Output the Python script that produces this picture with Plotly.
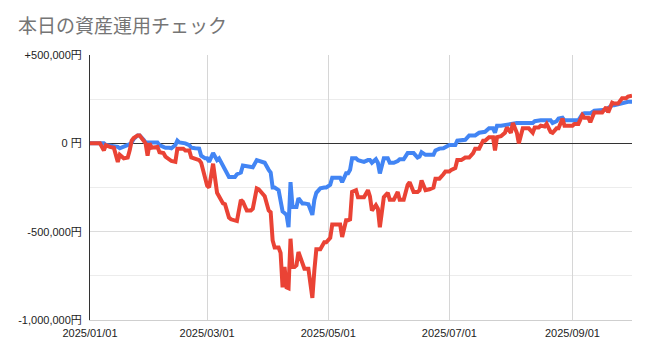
import pandas as pd
import plotly.graph_objects as go

# day offsets from 2025-01-01 (x categories)
day_offsets = [
    0, 3, 5, 7, 8, 10, 12, 14, 15, 17,
    19, 20, 21, 22, 24, 25, 27, 28, 29, 30,
    31, 32, 34, 35, 37, 38, 40, 41, 43, 44,
    45, 47, 48, 50, 51, 53, 55, 56, 58, 59,
    60, 62, 64, 65, 67, 68, 70, 71, 73, 74,
    76, 77, 79, 81, 82, 84, 85, 87, 88, 90,
    91, 92, 93, 95, 96, 97, 98, 99, 100, 101,
    102, 103, 104, 105, 107, 108, 110, 112, 113, 114,
    116, 118, 119, 121, 122, 124, 126, 127, 129, 130,
    131, 132, 134, 135, 137, 138, 140, 141, 142, 144,
    145, 146, 148, 150, 151, 153, 155, 156, 158, 160,
    161, 163, 165, 166, 167, 169, 171, 173, 174, 176,
    178, 179, 181, 182, 184, 185, 187, 189, 191, 193,
    194, 196, 198, 199, 201, 203, 204, 205, 207, 209,
    210, 212, 213, 215, 216, 218, 220, 221, 223, 224,
    226, 227, 229, 230, 232, 233, 235, 236, 238, 239,
    241, 243, 244, 246, 248, 249, 251, 252, 254, 256,
    258, 260, 261, 263, 264, 266, 268, 270, 271, 273,
]

# values in thousands of yen
blue_k = [
    0, 0, 0, 0, -10, -12, -15, -20, -28, -20,
    -15, -5, 5, 25, 45, 45, 20, 5, 5, 5,
    5, 0, 5, -10, -20, -25, -25, -28, -10, 15,
    5, 5, 0, -10, -25, -28, -30, -70, -85, -85,
    -105, -55, -95, -85, -130, -140, -190, -190, -190, -175,
    -165, -125, -130, -135, -135, -95, -100, -110, -110, -150,
    -165, -250, -250, -265, -330, -385, -395, -405, -475, -220,
    -360, -360, -360, -310, -340, -340, -345, -405, -320, -280,
    -255, -250, -250, -235, -195, -195, -195, -220, -170, -170,
    -150, -85, -85, -95, -100, -105, -95, -95, -110, -90,
    -110, -170, -85, -85, -110, -110, -100, -90, -90, -55,
    -55, -55, -80, -75, -50, -65, -65, -65, -40, -30,
    -28, -20, -10, -10, -10, 15, 15, 20, 45, 45,
    45, 60, 60, 65, 85, 85, 60, 100, 100, 105,
    105, 110, 110, 115, 115, 115, 115, 115, 115, 125,
    130, 130, 130, 130, 130, 115, 125, 140, 145, 130,
    130, 130, 130, 130, 165, 170, 170, 170, 185, 185,
    185, 190, 200, 215, 215, 220, 230, 230, 235, 235,
]

red_k = [
    0, 0, 0, -40, -10, -20, -25, -105, -65, -85,
    -80, -40, 15, 30, 45, 45, 15, 0, -70, 0,
    -25, -25, -20, -50, -55, -75, -95, -100, -105, -30,
    -30, -30, -40, -40, -80, -85, -95, -110, -200, -240,
    -250, -115, -280, -300, -340, -345, -420, -430, -440, -440,
    -320, -330, -380, -380, -370, -255, -260, -290, -300, -380,
    -390, -550, -590, -590, -620, -815, -700, -815, -820, -540,
    -700, -700, -690, -615, -680, -710, -710, -875, -720, -600,
    -600, -560, -560, -535, -460, -460, -460, -530, -435, -435,
    -430, -275, -265, -305, -305, -305, -265, -300, -380, -350,
    -370, -475, -305, -280, -320, -320, -275, -320, -320, -235,
    -220, -275, -275, -265, -210, -265, -260, -250, -200, -200,
    -175, -160, -160, -150, -140, -95, -95, -80, -80, -55,
    -30, -30, 15, 15, 35, 35, -40, 35, 40, 60,
    90, 60, 115, 60, 0, 85, 85, 85, 60, 90,
    90, 100, 95, 110, 65, 60, 85, 85, 140, 100,
    100, 100, 110, 110, 160, 145, 145, 120, 175, 175,
    175, 205, 175, 230, 225, 225, 255, 255, 265, 270,
]

y_tick_vals = [500000, 0, -500000, -1000000]
y_tick_text = ["+500,000円", "0 円", "-500,000円", "-1,000,000円"]
x_tick_vals = ["2025-01-01", "2025-03-01", "2025-05-01", "2025-07-01", "2025-09-01"]
x_tick_text = ["2025/01/01", "2025/03/01", "2025/05/01", "2025/07/01", "2025/09/01"]

assert len(day_offsets) == len(blue_k) == len(red_k)

dates = pd.Timestamp("2025-01-01") + pd.to_timedelta(day_offsets, unit="D")
blue = [v * 1000 for v in blue_k]
red = [v * 1000 for v in red_k]

fig = go.Figure()
fig.add_trace(go.Scatter(x=dates, y=blue, mode="lines",
                         line=dict(color="#4285F4", width=4), name="A"))
fig.add_trace(go.Scatter(x=dates, y=red, mode="lines",
                         line=dict(color="#EA4335", width=4), name="B"))

tick_font = dict(family="Liberation Sans, Arial, Noto Sans CJK JP", size=11, color="#222222")

fig.update_layout(
    width=650, height=356,
    margin=dict(l=90, r=18, t=55, b=36),
    paper_bgcolor="white", plot_bgcolor="white",
    showlegend=False,
    title=dict(text="本日の資産運用チェック",
               font=dict(family="Noto Sans CJK JP", size=19, color="#757575"),
               xref="container", yref="container",
               x=18 / 650, xanchor="left", y=1 - 26 / 356, yanchor="middle"),
    xaxis=dict(type="date", range=["2025-01-01", "2025-10-01"],
               tickvals=x_tick_vals, ticktext=x_tick_text,
               showgrid=True, gridcolor="#d6d6d6", gridwidth=1,
               showline=True, linecolor="#cfcfcf", linewidth=1,
               ticks="", ticklabelstandoff=3, tickfont=tick_font, zeroline=False),
    yaxis=dict(range=[-1000000, 500000],
               tickvals=y_tick_vals, ticktext=y_tick_text,
               showgrid=True, gridcolor="#dcdcdc", gridwidth=1,
               minor=dict(tickvals=[250000, -250000, -750000], showgrid=True,
                          gridcolor="#ececec", ticks=""),
               zeroline=True, zerolinecolor="#333333", zerolinewidth=1,
               showline=True, linecolor="#333333", linewidth=1,
               ticks="", ticklabelstandoff=5, tickfont=tick_font),
)

fig.write_html("out.html")
